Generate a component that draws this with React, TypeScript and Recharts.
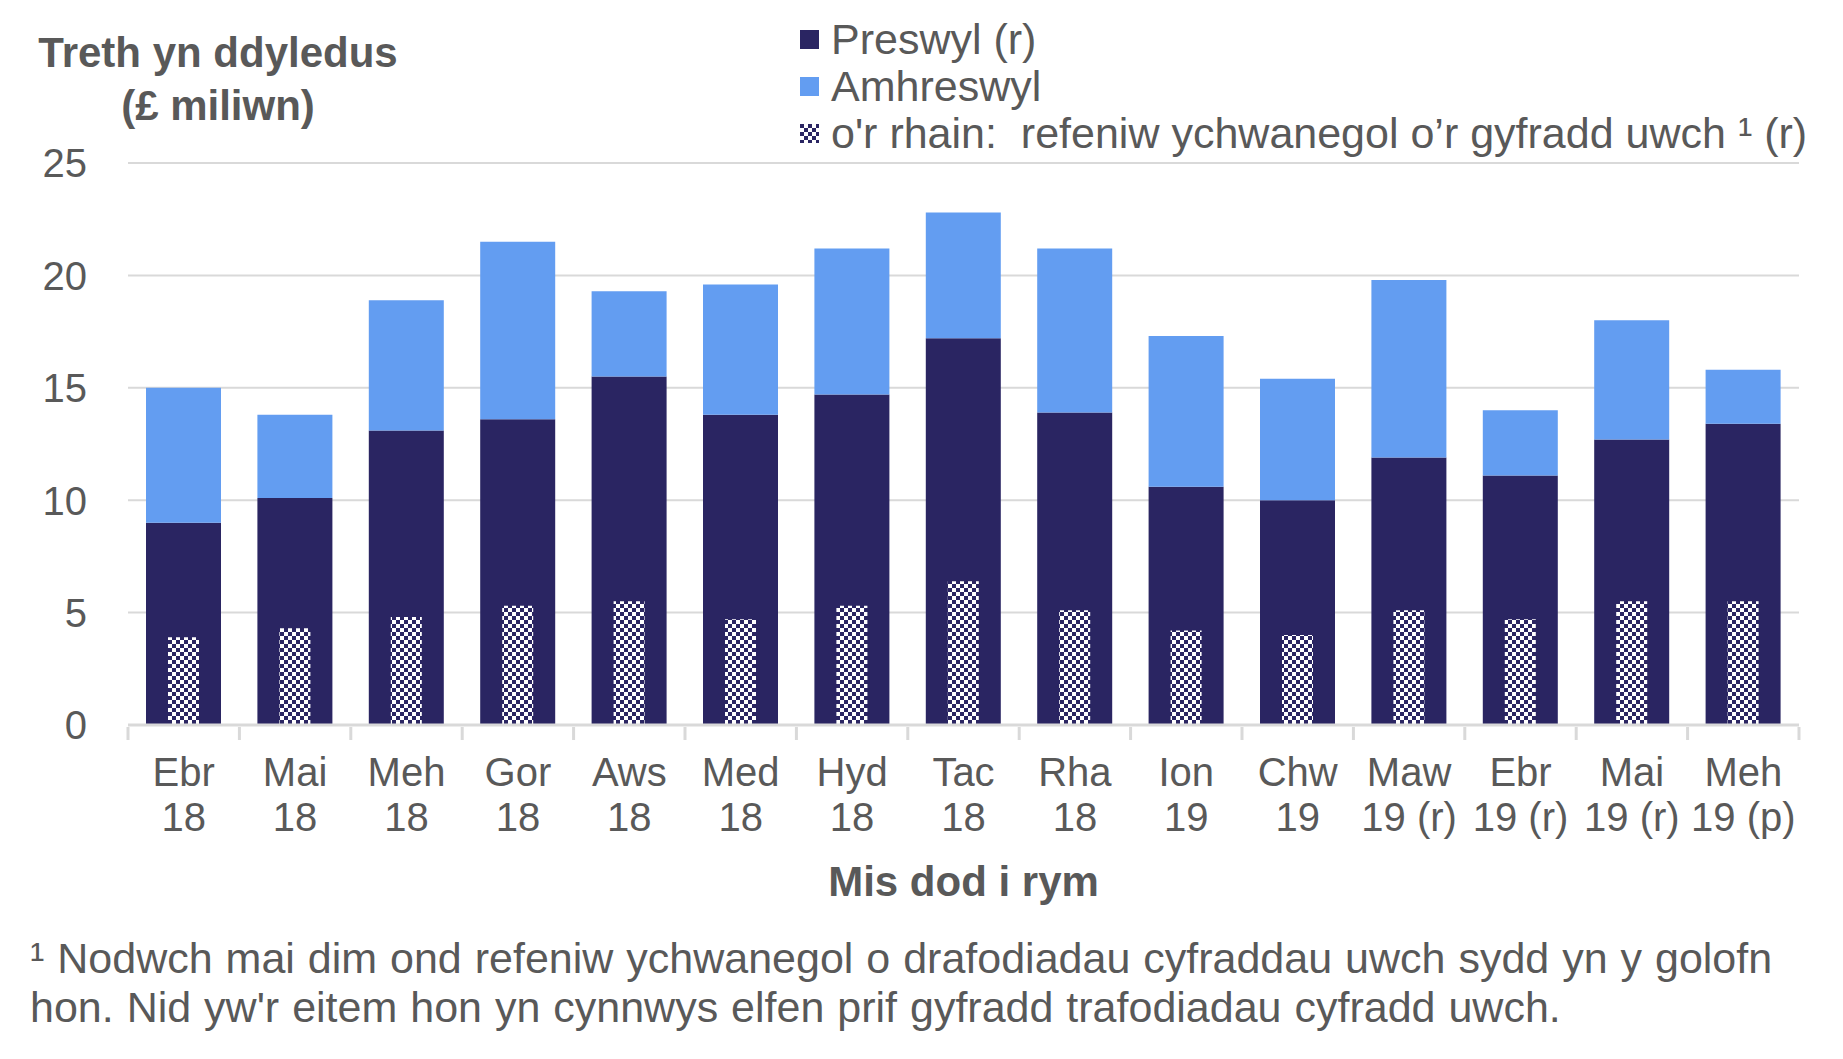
import React from 'react';
import { BarChart, Bar, XAxis, YAxis, CartesianGrid, Legend } from 'recharts';

const months = ['Ebr', 'Mai', 'Meh', 'Gor', 'Aws', 'Med', 'Hyd', 'Tac', 'Rha', 'Ion', 'Chw', 'Maw', 'Ebr', 'Mai', 'Meh'];
const years = ['18', '18', '18', '18', '18', '18', '18', '18', '18', '19', '19', '19 (r)', '19 (r)', '19 (r)', '19 (p)'];
const preswyl = [9.0, 10.1, 13.1, 13.6, 15.5, 13.8, 14.7, 17.2, 13.9, 10.6, 10.0, 11.9, 11.1, 12.7, 13.4];
const amhreswyl = [6.0, 3.7, 5.8, 7.9, 3.8, 5.8, 6.5, 5.6, 7.3, 6.7, 5.4, 7.9, 2.9, 5.3, 2.4];
const uwch = [3.9, 4.3, 4.8, 5.3, 5.5, 4.7, 5.3, 6.4, 5.1, 4.2, 4.0, 5.1, 4.7, 5.5, 5.5];
const yTicks = [0, 5, 10, 15, 20, 25];
const seriesNames = ['Preswyl (r)', 'Amhreswyl', "o'r rhain:  refeniw ychwanegol o’r gyfradd uwch ¹ (r)"];

const NAVY = '#2A2562';
const BLUE = '#639DF1';
const TEXT = '#595959';
const GRID = '#D9D9D9';
const FONT = '"Liberation Sans", Arial, sans-serif';

const W = 1843;
const H = 1059;
const LEFT = 128;
const RIGHT = 44;
const TOP = 163;
const BAND = (W - LEFT - RIGHT) / months.length;

const data = months.map((m, i) => ({
  key: `${m} ${years[i]}`,
  month: m,
  year: years[i],
  preswyl: preswyl[i],
  amhreswyl: amhreswyl[i],
  uwch: uwch[i],
}));

function XTick(props: any) {
  const { x, y, index } = props;
  const d = data[index];
  const last = index === data.length - 1;
  return (
    <g>
      <line x1={x - BAND / 2} x2={x - BAND / 2} y1={y} y2={y + 13} stroke={GRID} strokeWidth={3} />
      {last && <line x1={x + BAND / 2} x2={x + BAND / 2} y1={y} y2={y + 13} stroke={GRID} strokeWidth={3} />}
      <text x={x} y={y + 59} textAnchor="middle" fill={TEXT} fontSize={40} fontFamily={FONT}>{d.month}</text>
      <text x={x} y={y + 104} textAnchor="middle" fill={TEXT} fontSize={40} fontFamily={FONT}>{d.year}</text>
    </g>
  );
}

function YTick(props: any) {
  const { x, y, payload } = props;
  return (
    <text x={x - 39} y={y} dy="0.36em" textAnchor="end" fill={TEXT} fontSize={40} fontFamily={FONT}>
      {payload.value}
    </text>
  );
}

function LegendContent(props: any) {
  const items = [...(props.payload || [])].sort(
    (a: any, b: any) => seriesNames.indexOf(a.value) - seriesNames.indexOf(b.value)
  );
  return (
    <div style={{ fontFamily: FONT, fontSize: 43, color: TEXT }}>
      {items.map((p: any) => (
        <div key={p.value} style={{ display: 'flex', alignItems: 'center', height: 47, whiteSpace: 'pre' }}>
          <svg width={19} height={19} style={{ marginRight: 12 }}>
            <rect width={19} height={19} fill={p.color} />
          </svg>
          <span>{p.value}</span>
        </div>
      ))}
    </div>
  );
}

export default function App() {
  return (
    <div style={{ position: 'relative', width: W, height: H, fontFamily: FONT, color: TEXT, background: '#fff' }}>
      <style>{'body{margin:0}'}</style>
      <BarChart width={W} height={H} data={data} margin={{ top: TOP, right: RIGHT, left: 0, bottom: 0 }} barGap={0}>
        <defs>
          <pattern id="chk" width={8} height={8} patternUnits="userSpaceOnUse">
            <rect width={8} height={8} fill="#fff" />
            <rect width={4} height={4} fill={NAVY} />
            <rect x={4} y={4} width={4} height={4} fill={NAVY} />
          </pattern>
        </defs>
        <CartesianGrid vertical={false} stroke={GRID} strokeWidth={2} />
        <XAxis
          dataKey="key"
          interval={0}
          height={H - TOP - 562}
          tickLine={false}
          tickSize={0}
          axisLine={{ stroke: GRID, strokeWidth: 3 }}
          tick={(p: any) => <XTick {...p} />}
        />
        <XAxis xAxisId={1} dataKey="key" hide />
        <YAxis
          domain={[0, 25]}
          ticks={yTicks}
          width={LEFT}
          axisLine={false}
          tickLine={false}
          tickSize={0}
          tick={(p: any) => <YTick {...p} />}
        />
        <Legend
          layout="vertical"
          align="center"
          verticalAlign="middle"
          wrapperStyle={{ position: 'absolute', left: 800, top: 16, width: 1040, height: 141 }}
          content={(p: any) => <LegendContent {...p} />}
        />
        <Bar dataKey="preswyl" name={seriesNames[0]} stackId="a" fill={NAVY} barSize={75} isAnimationActive={false} />
        <Bar dataKey="amhreswyl" name={seriesNames[1]} stackId="a" fill={BLUE} barSize={75} isAnimationActive={false} />
        <Bar xAxisId={1} dataKey="uwch" name={seriesNames[2]} fill="url(#chk)" barSize={31} isAnimationActive={false} />
      </BarChart>
      <div style={{ position: 'absolute', left: 0, top: 26, width: 436, textAlign: 'center', fontWeight: 'bold', fontSize: 42, lineHeight: '53px' }}>
        Treth yn ddyledus
        <br />
        (£ miliwn)
      </div>
      <div style={{ position: 'absolute', left: LEFT, width: W - LEFT - RIGHT, top: 856, textAlign: 'center', fontWeight: 'bold', fontSize: 42, lineHeight: '52px' }}>
        Mis dod i rym
      </div>
      <div style={{ position: 'absolute', left: 30, top: 934, fontSize: 43, lineHeight: '49px', whiteSpace: 'nowrap', wordSpacing: 1 }}>
        ¹ Nodwch mai dim ond refeniw ychwanegol o drafodiadau cyfraddau uwch sydd yn y golofn
        <br />
        hon. Nid yw'r eitem hon yn cynnwys elfen prif gyfradd trafodiadau cyfradd uwch.
      </div>
    </div>
  );
}
